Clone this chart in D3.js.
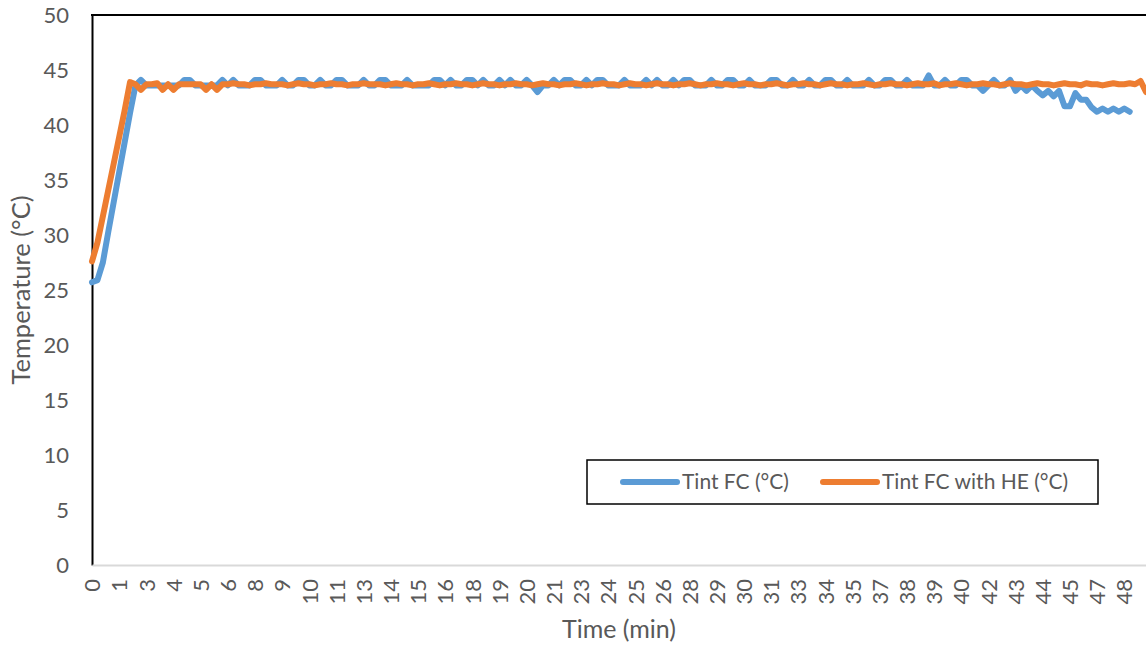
<!DOCTYPE html>
<html>
<head>
<meta charset="utf-8">
<script src="https://cdn.jsdelivr.net/npm/d3@7"></script>
<style>
  html, body { margin: 0; padding: 0; background: #fff; }
  svg { display: block; }
  text { font-family: Lato, "Open Sans", sans-serif; fill: #595959; }
</style>
</head>
<body>
<svg id="chart" width="1146" height="648"></svg>
<script>
// Category labels shown under every 5th logged sample (elapsed minutes)
const tickLabels = ["0","1","3","4","5","6","8","9","10","11","13","14","15","16","18","19","20",
  "21","23","24","25","26","28","29","30","31","33","34","35","37","38","39","40","42","43","44",
  "45","47","48"];

// Fuel-cell internal temperature, plain FC (°C)
const tintFC = [
  25.7, 25.9, 27.5, 30.3, 33.0, 35.7, 38.4, 41.1, 43.6, 44.1,
  43.6, 43.6, 43.6, 43.6, 43.6, 43.6, 43.6, 44.1, 44.1, 43.6,
  43.6, 43.6, 43.6, 43.6, 44.1, 43.6, 44.1, 43.6, 43.6, 43.6,
  44.1, 44.1, 43.6, 43.6, 43.6, 44.1, 43.6, 43.6, 44.1, 44.1,
  43.6, 43.6, 44.1, 43.6, 43.6, 44.1, 44.1, 43.6, 43.6, 43.6,
  44.1, 43.6, 43.6, 44.1, 44.1, 43.6, 43.6, 43.6, 44.1, 43.6,
  43.6, 43.6, 43.6, 44.1, 44.1, 43.6, 44.1, 43.6, 43.6, 44.1,
  44.1, 43.6, 44.1, 43.6, 43.6, 44.1, 43.6, 44.1, 43.6, 43.6,
  44.1, 43.6, 43.0, 43.6, 43.6, 44.1, 43.6, 44.1, 44.1, 43.6,
  43.6, 44.1, 43.6, 44.1, 44.1, 43.6, 43.6, 43.6, 44.1, 43.6,
  43.6, 43.6, 44.1, 43.6, 44.1, 43.6, 43.6, 44.1, 43.6, 44.1,
  44.1, 43.6, 43.6, 43.6, 44.1, 43.6, 43.6, 44.1, 44.1, 43.6,
  43.6, 44.1, 43.6, 43.6, 43.6, 44.1, 44.1, 43.6, 43.6, 44.1,
  43.6, 43.6, 44.1, 43.6, 43.6, 44.1, 44.1, 43.6, 43.6, 44.1,
  43.6, 43.6, 43.6, 44.1, 43.6, 43.6, 44.1, 44.1, 43.6, 43.6,
  44.1, 43.6, 43.6, 43.6, 44.5, 43.6, 43.6, 44.1, 43.6, 43.6,
  44.1, 44.1, 43.6, 43.6, 43.1, 43.6, 44.1, 43.6, 43.6, 44.1,
  43.1, 43.6, 43.1, 43.6, 43.1, 42.7, 43.1, 42.6, 43.1, 41.7,
  41.7, 42.9, 42.3, 42.3, 41.6, 41.2, 41.5, 41.2, 41.5, 41.2,
  41.5, 41.2
];

// Fuel-cell internal temperature with heat exchanger (°C)
const tintFCHE = [
  27.6, 29.3, 31.7, 34.1, 36.5, 38.9, 41.3, 43.9, 43.7, 43.2,
  43.7, 43.7, 43.8, 43.2, 43.7, 43.2, 43.7, 43.7, 43.7, 43.7,
  43.7, 43.2, 43.7, 43.2, 43.7, 43.7, 43.8, 43.7, 43.7, 43.6,
  43.7, 43.7, 43.8, 43.7, 43.7, 43.7, 43.6, 43.7, 43.8, 43.7,
  43.7, 43.6, 43.7, 43.7, 43.8, 43.7, 43.7, 43.6, 43.7, 43.7,
  43.8, 43.7, 43.7, 43.7, 43.6, 43.7, 43.8, 43.7, 43.7, 43.6,
  43.7, 43.7, 43.8, 43.7, 43.6, 43.7, 43.7, 43.8, 43.7, 43.7,
  43.6, 43.7, 43.8, 43.7, 43.7, 43.6, 43.7, 43.7, 43.8, 43.7,
  43.7, 43.6, 43.7, 43.8, 43.7, 43.7, 43.6, 43.7, 43.7, 43.8,
  43.7, 43.6, 43.7, 43.7, 43.8, 43.7, 43.7, 43.6, 43.7, 43.8,
  43.7, 43.7, 43.6, 43.7, 43.8, 43.7, 43.7, 43.6, 43.7, 43.7,
  43.8, 43.7, 43.6, 43.7, 43.7, 43.8, 43.7, 43.7, 43.6, 43.7,
  43.8, 43.7, 43.7, 43.6, 43.7, 43.7, 43.8, 43.7, 43.6, 43.7,
  43.7, 43.8, 43.7, 43.7, 43.6, 43.7, 43.8, 43.7, 43.7, 43.6,
  43.7, 43.7, 43.8, 43.7, 43.6, 43.7, 43.7, 43.8, 43.7, 43.7,
  43.6, 43.7, 43.8, 43.7, 43.7, 43.8, 43.6, 43.7, 43.7, 43.8,
  43.7, 43.6, 43.7, 43.7, 43.8, 43.7, 43.7, 43.6, 43.7, 43.8,
  43.7, 43.7, 43.6, 43.7, 43.8, 43.7, 43.7, 43.6, 43.7, 43.8,
  43.7, 43.7, 43.6, 43.8, 43.7, 43.7, 43.6, 43.7, 43.8, 43.7,
  43.7, 43.8, 43.7, 44.0, 43.0
];

const seriesNames = ["Tint FC (°C)", "Tint FC with HE (°C)"];
const seriesColors = ["#5B9BD5", "#ED7D31"];
const yTicks = [0, 5, 10, 15, 20, 25, 30, 35, 40, 45, 50];
const labelEvery = 5;

const svg = d3.select("#chart");
const plot = { left: 92, right: 1146, top: 15, bottom: 565 };

const nSamples = Math.max(tintFC.length, tintFCHE.length);
const x = d3.scalePoint()
  .domain(d3.range(nSamples))
  .range([plot.left, plot.right]);
const y = d3.scaleLinear()
  .domain([0, 50])
  .range([plot.bottom, plot.top]);

// Y axis
const yAxis = svg.append("g")
  .attr("transform", `translate(${plot.left},0)`)
  .call(d3.axisLeft(y).tickValues(yTicks).tickSize(0).tickSizeOuter(0).tickPadding(23));
yAxis.select(".domain").attr("stroke", "#000").attr("stroke-width", 2);
yAxis.selectAll("text")
  .style("font-family", "Lato, 'Open Sans', sans-serif")
  .style("font-size", "22px")
  .attr("fill", "#595959");

// X axis (category axis, labelled every 5th sample)
const xTickVals = tickLabels.map((_, i) => i * labelEvery);
const xAxis = svg.append("g")
  .attr("transform", `translate(0,${plot.bottom})`)
  .call(d3.axisBottom(x).tickValues(xTickVals)
    .tickFormat((d, i) => tickLabels[i]).tickSize(0).tickSizeOuter(0));
xAxis.select(".domain").attr("stroke", "#d9d9d9").attr("stroke-width", 2);
xAxis.selectAll("text")
  .style("font-family", "Lato, 'Open Sans', sans-serif")
  .style("font-size", "22px")
  .attr("fill", "#595959")
  .attr("transform", "rotate(-90)")
  .attr("text-anchor", "end")
  .attr("x", -14)
  .attr("y", 0)
  .attr("dy", "0.35em");

// Top border of the plot area
svg.append("line")
  .attr("x1", plot.left - 1).attr("x2", plot.right)
  .attr("y1", plot.top).attr("y2", plot.top)
  .attr("stroke", "#000").attr("stroke-width", 2);

// Series lines
const line = d3.line()
  .x((d, i) => x(i))
  .y(d => y(d));

[tintFC, tintFCHE].forEach((s, k) => {
  svg.append("path")
    .datum(s)
    .attr("fill", "none")
    .attr("stroke", seriesColors[k])
    .attr("stroke-width", 6)
    .attr("stroke-linejoin", "round")
    .attr("stroke-linecap", "round")
    .attr("d", line);
});

// Axis titles
svg.append("text")
  .attr("x", (plot.left + plot.right) / 2)
  .attr("y", 638)
  .attr("text-anchor", "middle")
  .style("font-size", "25px")
  .text("Time (min)");

svg.append("text")
  .attr("transform", `translate(30,${(plot.top + plot.bottom) / 2}) rotate(-90)`)
  .attr("text-anchor", "middle")
  .style("font-size", "25.5px")
  .text("Temperature (°C)");

// Legend
const legend = svg.append("g");
legend.append("rect")
  .attr("x", 587).attr("y", 460)
  .attr("width", 511).attr("height", 44)
  .attr("fill", "#fff")
  .attr("stroke", "#000").attr("stroke-width", 1.5);

const legendItems = [
  { x0: 623, x1: 677, tx: 682 },
  { x0: 823, x1: 877, tx: 882 }
];
legendItems.forEach((it, k) => {
  legend.append("line")
    .attr("x1", it.x0).attr("x2", it.x1)
    .attr("y1", 482).attr("y2", 482)
    .attr("stroke", seriesColors[k])
    .attr("stroke-width", 6)
    .attr("stroke-linecap", "round");
  legend.append("text")
    .attr("x", it.tx).attr("y", 482)
    .attr("dy", "0.35em")
    .style("font-size", "21px")
    .text(seriesNames[k]);
});
</script>
</body>
</html>
